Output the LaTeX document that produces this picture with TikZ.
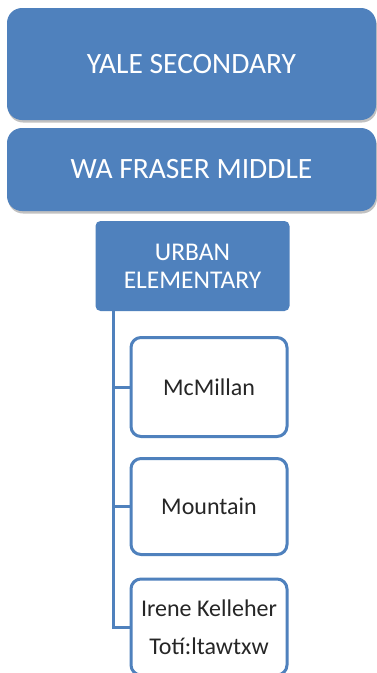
\documentclass[tikz,border=0pt]{standalone}
\usepackage{fontspec}
\setmainfont{Carlito}
\usetikzlibrary{shadows,positioning}
\definecolor{ublue}{HTML}{4F81BD}
\definecolor{txtdark}{HTML}{262626}
\begin{document}
\begin{tikzpicture}[x=1pt,y=-1pt,
  topbox/.style={fill=ublue, draw=none, rounded corners=15pt, text=white,
    drop shadow={shadow xshift=1pt, shadow yshift=-2.5pt, opacity=0.4, fill=black!60},
    font=\fontsize{29.5}{33}\selectfont, inner sep=0pt},
  midbox/.style={fill=ublue, draw=none, rounded corners=5pt, text=white,
    font=\fontsize{25.5}{28}\selectfont, align=center, inner sep=0pt},
  leafbox/.style={fill=white, draw=ublue, line width=3pt, rounded corners=10pt,
    text=txtdark, font=\fontsize{24}{38}\selectfont, align=center, inner sep=0pt,
    minimum width=156pt},
  tie/.style={draw=ublue, line width=3pt}
]
\useasboundingbox (0,0) rectangle (377,673);
\fill[white] (0,0) rectangle (377,673);
\node[topbox, minimum width=369pt, minimum height=112pt] (yale) at (191.5,64) {YALE SECONDARY};
\node[topbox, minimum width=369pt, minimum height=83pt] (wa) at (191.5,169.5) {WA FRASER MIDDLE};
\node[midbox, minimum width=194pt, minimum height=90pt] (urban) at (192.5,266) {URBAN\\ELEMENTARY};
\node[leafbox, minimum height=99pt] (mcm) at (209,387) {McMillan};
\node[leafbox, minimum height=96pt] (mtn) at (209,506.5) {Mountain};
\node[leafbox, minimum height=96pt] (irene) at (209,627) {Irene Kelleher\\Totí:ltawtxw};
\coordinate (trunk) at (113,311);
\draw[tie] (trunk) |- (mcm.west);
\draw[tie] (trunk) |- (mtn.west);
\draw[tie] (trunk) |- (irene.west);
\end{tikzpicture}
\end{document}
